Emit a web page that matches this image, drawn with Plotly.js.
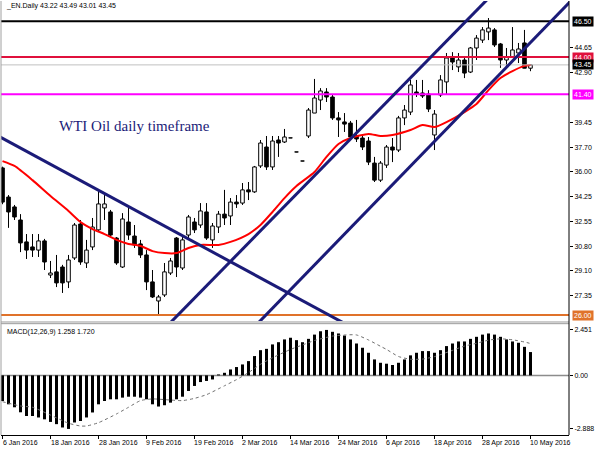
<!DOCTYPE html>
<html><head><meta charset="utf-8">
<script src="https://cdn.plot.ly/plotly-3.0.1.min.js"></script>
<style>html,body{margin:0;padding:0;background:#fff;}#chart{width:600px;height:450px;}</style>
</head><body><div id="chart"></div>
<script>
// ---- data ----
const tickIdx = [0,8,16,24,32,40,48,56,64,72,80,88];
const tickLabels = ['6 Jan 2016','18 Jan 2016','28 Jan 2016','9 Feb 2016','19 Feb 2016','2 Mar 2016','14 Mar 2016','24 Mar 2016','6 Apr 2016','18 Apr 2016','28 Apr 2016','10 May 2016'];

const openP = [36.26,34.23,33.54,32.63,31.10,30.75,30.53,31.17,28.79,29.01,
29.35,28.31,29.98,32.35,29.63,30.75,31.94,33.47,33.19,31.37,
29.35,32.49,31.51,30.96,30.19,28.31,26.98,27.40,28.93,31.37,
29.28,31.58,32.49,32.28,33.19,31.24,32.14,33.04,32.91,33.88,
33.81,34.73,34.59,36.40,37.72,36.33,38.21,38.07,38.36,37.38,
36.75,38.49,40.09,41.00,41.56,41.21,39.75,39.47,39.39,38.49,
38.35,38.14,36.60,35.41,36.46,37.72,37.51,39.75,40.16,41.56,
41.49,41.42,38.56,41.35,42.26,43.93,43.31,43.79,42.95,44.63,
45.18,45.75,45.89,44.91,43.79,44.00,44.28,44.98,43.22];
const highP = [36.35,34.37,33.68,33.04,31.65,31.65,31.65,31.31,29.77,30.19,
29.50,30.19,32.42,32.63,31.24,32.77,34.73,34.37,33.33,31.44,
33.11,33.54,32.28,31.24,30.53,29.14,27.40,29.63,29.98,31.44,
31.44,32.98,32.77,33.81,33.81,32.42,33.26,34.73,34.16,34.37,
35.21,35.28,36.40,38.21,38.49,38.49,38.49,38.98,38.37,37.39,
36.76,40.44,42.47,41.83,41.83,41.35,40.16,40.09,39.54,39.61,
38.56,38.42,37.03,36.74,37.86,38.35,39.89,40.65,42.40,42.40,
42.40,41.69,40.30,42.74,44.28,44.34,44.28,44.00,44.70,45.53,
46.09,46.72,46.02,44.98,44.63,46.09,44.98,45.89,43.49];
const lowP = [33.73,32.08,32.63,30.39,29.91,30.05,30.05,29.14,28.58,27.95,
27.54,27.88,29.84,29.50,29.28,30.53,31.79,32.63,31.44,29.50,
29.28,31.24,30.68,29.98,27.74,27.19,26.07,27.26,28.79,28.65,
29.14,31.37,31.72,32.08,31.24,30.68,31.72,32.28,32.28,33.47,
33.68,34.02,34.52,36.26,36.12,36.12,37.03,38.00,38.34,37.36,
36.73,38.35,40.09,40.30,40.86,39.61,38.42,38.77,38.21,38.07,
37.51,36.46,35.28,35.28,36.26,36.67,37.37,39.25,39.95,41.21,
41.14,40.16,37.51,41.21,41.35,43.09,42.95,42.53,42.88,43.79,
44.98,45.18,44.70,43.24,43.24,43.93,43.58,43.24,43.01];
const closeP = [33.88,33.19,32.84,31.03,30.53,30.53,31.17,29.70,28.93,28.24,
28.24,29.84,32.28,29.70,30.53,32.14,33.75,33.75,31.58,29.63,
32.70,31.58,30.89,30.19,28.31,27.26,27.26,29.01,29.77,29.35,
31.24,32.84,31.94,33.26,31.37,32.21,33.04,32.77,33.88,33.75,
34.73,34.59,36.33,38.00,36.33,38.14,38.00,38.42,38.35,37.37,
36.74,40.30,41.14,41.63,41.21,39.75,39.61,39.32,38.42,38.28,
37.72,36.67,35.41,36.60,37.72,37.51,39.75,40.30,42.05,41.42,
41.28,40.37,40.02,42.40,43.93,43.65,43.79,42.88,44.63,45.32,
45.89,46.02,44.84,43.79,44.00,44.49,44.56,43.22,43.45];

const maIdx = [0,2,5,8,11,13,15,17,19,21,23,25,27,29,31,33,36,38,41,43,45,47,49,52,54,56,58,61,63,65,68,70,72,74,77,79,81,83,85,87,88];
const maVal = [36.74,36.40,35.41,34.30,33.26,32.49,32.00,31.65,31.24,30.96,30.82,30.46,30.32,30.32,30.68,30.89,30.89,31.10,31.65,32.28,33.19,34.16,35.00,35.98,37.03,37.93,38.35,38.63,38.49,38.56,38.91,39.25,39.11,39.46,40.16,40.72,41.69,42.53,43.02,43.38,43.44];

const macdHist = [-1.38,-1.56,-1.72,-1.99,-2.19,-2.19,-2.27,-2.37,-2.51,-2.63,
-2.81,-2.888,-2.54,-2.46,-2.27,-2.00,-1.56,-1.38,-1.29,-1.29,
-1.20,-1.15,-1.15,-1.20,-1.29,-1.56,-1.68,-1.61,-1.47,-1.29,
-1.15,-0.84,-0.57,-0.36,-0.30,-0.22,0.05,0.14,0.32,0.45,
0.59,0.77,1.04,1.36,1.43,1.67,1.79,1.94,2.03,1.90,
1.79,1.97,2.20,2.38,2.451,2.35,2.26,2.15,1.94,1.72,
1.49,1.22,0.86,0.68,0.63,0.56,0.68,0.86,1.08,1.22,
1.31,1.31,1.22,1.36,1.58,1.72,1.83,1.83,1.97,2.08,
2.20,2.26,2.20,2.08,1.94,1.83,1.76,1.54,1.258];
const sigIdx = [0,3,5,8,11,13,14,16,19,21,23,25,28,30,32,34,37,39,41,43,45,48,50,52,55,57,59,61,63,64,66,68,70,72,75,77,79,81,83,85,87,88];
const sigVal = [-1.42,-1.65,-1.72,-2.14,-2.58,-2.73,-2.73,-2.55,-2.08,-1.72,-1.36,-1.27,-1.33,-1.36,-1.24,-1.04,-0.56,-0.23,0.15,0.60,0.95,1.40,1.64,1.88,2.12,2.18,2.18,1.91,1.57,1.40,1.02,0.87,0.88,1.01,1.35,1.58,1.73,1.90,1.97,1.92,1.80,1.72];

const levelPrices = [46.50, 44.00, 43.45, 41.40, 26.00];
const priceTicks = [27.35,29.10,30.80,32.55,34.25,36.00,37.70,39.45,42.90,44.65];
const macdTicks = [2.451, 0, -2.888];
// trend lines: [bar index, price] start and end
const trendStartIdx = [-0.42, 27.83, 42.0];
const trendStartPrice = [38.42, 25.40, 25.18];
const trendEndIdx = [58.0, 81.17, 95.33];
const trendEndPrice = [25.19, 48.17, 48.17];

// ---- styles ----
const levelColors = ['#000000','#e0103c','#c0c0c0','#ff00ff','#e0722a'];
const levelWidths = [2,2,1,2,2];
const labelBg = ['#000000','#e0103c','#000000','#ff00ff','#e0722a'];
const NAVY = '#1b1b78';

const idx = openP.map((_,i)=>i);
const wx=[], wy=[];
idx.forEach(i=>{
  const top=Math.max(openP[i],closeP[i]), bot=Math.min(openP[i],closeP[i]);
  wx.push(i,i,null,i,i,null);
  wy.push(top,highP[i],null,lowP[i],bot,null);
});
const bodyBase = idx.map(i=>Math.min(openP[i],closeP[i]));
const bodyH = idx.map(i=>Math.max(Math.abs(closeP[i]-openP[i]),0.01));
const bodyCol = idx.map(i=> closeP[i]>openP[i] ? '#ffffff' : '#000000');

const traces = [
  {type:'scatter', mode:'lines', x:wx, y:wy, xaxis:'x', yaxis:'y', line:{color:'#000',width:1}, hoverinfo:'skip'},
  {type:'bar', x:idx, y:bodyH, base:bodyBase, width:0.6, xaxis:'x', yaxis:'y',
   marker:{color:bodyCol, line:{color:'#000', width:1}}, hoverinfo:'skip'},
  {type:'scatter', mode:'lines', x:maIdx, y:maVal, xaxis:'x', yaxis:'y', line:{color:'#ff0000', width:2, shape:'spline', smoothing:0.6}},
  {type:'bar', x:idx, y:macdHist, width:0.5, xaxis:'x', yaxis:'y2', marker:{color:'#000', line:{width:0}}},
  {type:'scatter', mode:'lines', x:sigIdx, y:sigVal, xaxis:'x', yaxis:'y2', line:{color:'#707070', width:1, dash:'dot', shape:'spline', smoothing:0.6}}
];

const shapes = [];
shapes.push({type:'line', layer:'below', xref:'paper', x0:0, x1:1, yref:'y2', y0:0, y1:0, line:{color:'#8c8c8c', width:1.5}});
levelPrices.forEach((v,k)=>shapes.push({type:'line', xref:'paper', x0:0, x1:1, yref:'y', y0:v, y1:v, line:{color:levelColors[k], width:levelWidths[k]}}));
trendStartIdx.forEach((v,k)=>shapes.push({type:'line', xref:'x', yref:'y', x0:v, y0:trendStartPrice[k], x1:trendEndIdx[k], y1:trendEndPrice[k], line:{color:NAVY, width:3}}));
shapes.push({type:'line', xref:'paper', x0:0, x1:1, yref:'paper', y0:0.2604, y1:0.2604, line:{color:'#9a9a9a', width:1}});
shapes.push({type:'line', xref:'paper', x0:0, x1:1, yref:'paper', y0:0.2565, y1:0.2565, line:{color:'#9a9a9a', width:1}});
shapes.push({type:'line', xref:'paper', x0:1, x1:1, yref:'paper', y0:0, y1:1, line:{color:'#000', width:1}});
shapes.push({type:'line', xref:'paper', x0:0, x1:0, yref:'paper', y0:0, y1:1, line:{color:'#a0a0a0', width:1}});

const annotations = [];
annotations.push({xref:'paper', x:0, xanchor:'left', xshift:3, yref:'paper', y:1, yanchor:'top', yshift:1,
  text:'_EN.Daily 43.22 43.49 43.01 43.45', showarrow:false, font:{size:7, color:'#000'}});
annotations.push({xref:'paper', x:0.0986, xanchor:'left', yref:'paper', y:0.712, yanchor:'middle',
  text:'WTI Oil daily timeframe', showarrow:false, font:{family:'Liberation Serif, Times New Roman, serif', size:15, color:NAVY}});
annotations.push({xref:'paper', x:0, xanchor:'left', xshift:4, yref:'paper', y:0.2558, yanchor:'top', yshift:-2,
  text:'MACD(12,26,9) 1.258 1.720', showarrow:false, font:{size:7, color:'#000'}});
levelPrices.forEach((v,k)=>{
  if(k===2) return;
  annotations.push({xref:'paper', x:1, xanchor:'left', xshift:3, yref:'y', y:v, yanchor:'middle',
    text:v.toFixed(2), showarrow:false, bgcolor:labelBg[k], borderpad:1, font:{size:7, color:'#fff'}});
});
annotations.push({xref:'paper', x:1, xanchor:'left', xshift:3, yref:'y', y:levelPrices[2], yanchor:'middle',
    text:levelPrices[2].toFixed(2), showarrow:false, bgcolor:labelBg[2], borderpad:1, font:{size:7, color:'#fff'}});
tickIdx.forEach((v,k)=>annotations.push({xref:'x', x:v, xanchor:'left', xshift:-2, yref:'paper', y:0, yanchor:'top', yshift:-2,
  text:tickLabels[k], showarrow:false, font:{size:7, color:'#000'}}));

const layout = {
  width:600, height:450, margin:{l:1, r:31, t:1, b:15},
  paper_bgcolor:'#fff', plot_bgcolor:'#fff', showlegend:false,
  font:{family:'Liberation Sans, Arial, sans-serif', size:7, color:'#000'},
  barmode:'overlay',
  xaxis:{range:[-0.25,94.42], domain:[0,1], anchor:'y2', showgrid:false, zeroline:false,
    showline:true, linecolor:'#000', linewidth:1, ticks:'outside', ticklen:3, tickcolor:'#000',
    tickmode:'array', tickvals:tickIdx, showticklabels:false, fixedrange:true},
  yaxis:{domain:[0.2627,1], range:[25.584,47.907], side:'right', anchor:'x', showgrid:false, zeroline:false,
    showline:false, ticks:'outside', ticklen:3, tickcolor:'#000', tickmode:'array', tickvals:priceTicks,
    tickformat:'.2f', tickfont:{size:7}, fixedrange:true},
  yaxis2:{domain:[0,0.2558], range:[-3.215,2.772], side:'right', anchor:'x', showgrid:false, zeroline:false,
    showline:false, ticks:'outside', ticklen:3, tickcolor:'#000', tickmode:'array', tickvals:macdTicks,
    ticktext:['2.451','0.00','-2.888'], tickfont:{size:7}, fixedrange:true},
  shapes:shapes, annotations:annotations
};
Plotly.newPlot('chart', traces, layout, {staticPlot:true, displayModeBar:false});
</script></body></html>
